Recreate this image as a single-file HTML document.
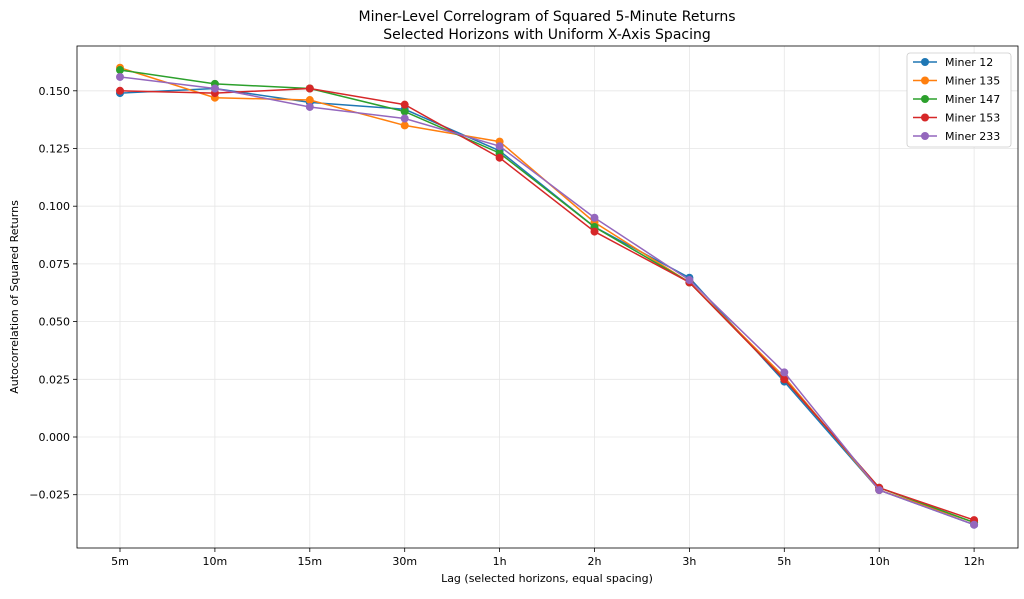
<!DOCTYPE html>
<html><head><meta charset="utf-8"><style>
body{margin:0;background:#fff;width:1024px;height:594px;overflow:hidden;font-family:"Liberation Sans","DejaVu Sans",sans-serif}
</style></head><body>
<svg id="s" width="1024" height="594" xmlns="http://www.w3.org/2000/svg" font-family="DejaVu Sans, Liberation Sans, sans-serif">
<text x="547" y="21" font-size="14" text-anchor="middle">Miner-Level Correlogram of Squared 5-Minute Returns</text>
<text x="547" y="39" font-size="14" text-anchor="middle">Selected Horizons with Uniform X-Axis Spacing</text>
<text x="547" y="582" font-size="11" text-anchor="middle">Lag (selected horizons, equal spacing)</text>
<text transform="translate(18,297) rotate(-90)" font-size="11" text-anchor="middle">Autocorrelation of Squared Returns</text>
<g id="g"></g>
</svg>
<script>
var g=document.getElementById('g'),h='';
var L=77,R=1018,T=46,B=548;
function Y(v){return 437-v*2308;}
function X(i){return 120+i*94.9;}
var xl=['5m','10m','15m','30m','1h','2h','3h','5h','10h','12h'];
var yt=[0.150,0.125,0.100,0.075,0.050,0.025,0.000,-0.025];
yt.forEach(function(v){var y=Y(v);h+='<line x1="'+L+'" x2="'+R+'" y1="'+y+'" y2="'+y+'" stroke="#e6e6e6" stroke-width="0.8"/>';
h+='<line x1="'+(L-4)+'" x2="'+L+'" y1="'+y+'" y2="'+y+'" stroke="#000" stroke-width="0.8"/>';
h+='<text x="'+(L-7)+'" y="'+(y+4)+'" font-size="11" text-anchor="end">'+(v<0?'\u2212':'')+Math.abs(v).toFixed(3)+'</text>';});
xl.forEach(function(t,i){var x=X(i);h+='<line y1="'+T+'" y2="'+B+'" x1="'+x+'" x2="'+x+'" stroke="#e6e6e6" stroke-width="0.8"/>';
h+='<line y1="'+B+'" y2="'+(B+4)+'" x1="'+x+'" x2="'+x+'" stroke="#000" stroke-width="0.8"/>';
h+='<text x="'+x+'" y="'+(B+17)+'" font-size="11" text-anchor="middle">'+t+'</text>';});
var S=[['Miner 12','#1f77b4',[0.149,0.151,0.145,0.142,0.124,0.091,0.069,0.024,-0.023,-0.038]],
['Miner 135','#ff7f0e',[0.160,0.147,0.146,0.135,0.128,0.093,0.067,0.026,-0.023,-0.037]],
['Miner 147','#2ca02c',[0.159,0.153,0.151,0.141,0.123,0.091,0.067,0.025,-0.022,-0.037]],
['Miner 153','#d62728',[0.150,0.149,0.151,0.144,0.121,0.089,0.067,0.025,-0.022,-0.036]],
['Miner 233','#9467bd',[0.156,0.151,0.143,0.138,0.126,0.095,0.068,0.028,-0.023,-0.038]]];
S.forEach(function(s){var p=s[2].map(function(v,i){return X(i)+','+Y(v)}).join(' ');
h+='<polyline points="'+p+'" fill="none" stroke="'+s[1]+'" stroke-width="1.5"/>';
s[2].forEach(function(v,i){h+='<circle cx="'+X(i)+'" cy="'+Y(v)+'" r="4" fill="'+s[1]+'"/>';});});
h+='<rect x="'+L+'" y="'+T+'" width="'+(R-L)+'" height="'+(B-T)+'" fill="none" stroke="#000" stroke-width="0.8"/>';
h+='<rect x="907" y="53" width="104" height="94" rx="3" fill="#fff" stroke="#ccc" stroke-width="0.8"/>';
S.forEach(function(s,i){var y=62+i*18.5;h+='<line x1="913" x2="937" y1="'+y+'" y2="'+y+'" stroke="'+s[1]+'" stroke-width="1.5"/><circle cx="925" cy="'+y+'" r="4" fill="'+s[1]+'"/>';
h+='<text x="945" y="'+(y+4)+'" font-size="11">'+s[0]+'</text>';});
g.innerHTML=h;
</script>
</body></html>
